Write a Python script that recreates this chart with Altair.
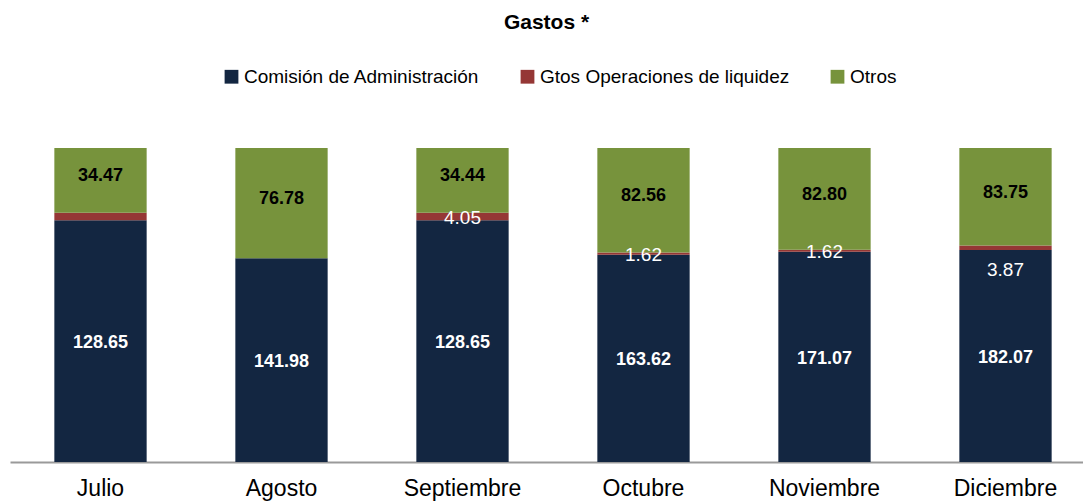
import altair as alt
import pandas as pd

months = ["Julio", "Agosto", "Septiembre", "Octubre", "Noviembre", "Diciembre"]
series = ["Comisión de Administración", "Gtos Operaciones de liquidez", "Otros"]
colors = ["#132641", "#953735", "#77933C"]
comision = [128.65, 141.98, 128.65, 163.62, 171.07, 182.07]
liquidez = [4.05, 0.0, 4.05, 1.62, 1.62, 3.87]
otros = [34.47, 76.78, 34.44, 82.56, 82.80, 83.75]
liq_labels = ["", "", "4.05", "1.62", "1.62", "3.87"]

rows = []
for i, m in enumerate(months):
    rows.append({"mes": m, "serie": series[0], "orden": 0, "valor": comision[i], "lab": f"{comision[i]:.2f}"})
    rows.append({"mes": m, "serie": series[1], "orden": 1, "valor": liquidez[i], "lab": liq_labels[i]})
    rows.append({"mes": m, "serie": series[2], "orden": 2, "valor": otros[i], "lab": f"{otros[i]:.2f}"})
df = pd.DataFrame(rows)

FONT = "Liberation Sans, Arial"

base = alt.Chart(df).transform_stack(
    stack="valor", groupby=["mes"], sort=[alt.SortField("orden", order="ascending")],
    as_=["y0", "y1"], offset="normalize"
).transform_calculate(ym="(datum.y0 + datum.y1) / 2")

xenc = alt.X(
    "mes:N", sort=months,
    scale=alt.Scale(range=[0, 1086], paddingInner=0.49, paddingOuter=0.245),
    axis=alt.Axis(title=None, labelAngle=0, ticks=False, domainColor="#9a9a9a", domainWidth=2,
                  labelFontSize=23, labelPadding=15, labelColor="black", labelFont=FONT),
)

bars = base.mark_bar().encode(
    x=xenc,
    y=alt.Y("y0:Q", scale=alt.Scale(domain=[0, 1]), axis=None),
    y2="y1:Q",
    color=alt.Color("serie:N", scale=alt.Scale(domain=series, range=colors),
                    legend=alt.Legend(title=None, orient="none", legendX=212, legendY=-81,
                                      direction="horizontal", symbolType="square", symbolSize=190,
                                      symbolStrokeWidth=0, symbolOpacity=1, labelFontSize=19,
                                      labelFont=FONT, labelColor="black", columnPadding=38,
                                      labelOffset=3, labelLimit=0)),
    order=alt.Order("orden:Q"),
)

lab_com = base.transform_filter("datum.orden == 0").mark_text(
    color="white", fontWeight="bold", fontSize=18, font=FONT, baseline="middle", dy=2
).encode(x=alt.X("mes:N", sort=months), y="ym:Q", text="lab:N")

lab_otros = base.transform_filter("datum.orden == 2").mark_text(
    color="black", fontWeight="bold", fontSize=18, font=FONT, baseline="middle", dy=-4
).encode(x=alt.X("mes:N", sort=months), y="ym:Q", text="lab:N")

lab_liq = base.transform_filter("datum.orden == 1 && datum.mes != 'Diciembre'").mark_text(
    color="white", fontSize=19, font=FONT, baseline="middle", dy=1
).encode(x=alt.X("mes:N", sort=months), y="ym:Q", text="lab:N")

lab_liq_dic = base.transform_filter("datum.orden == 1 && datum.mes == 'Diciembre'").mark_text(
    color="white", fontSize=19, font=FONT, baseline="middle", dy=22
).encode(x=alt.X("mes:N", sort=months), y="ym:Q", text="lab:N")

chart = alt.layer(bars, lab_com, lab_otros, lab_liq, lab_liq_dic).properties(
    width=1073, height=314,
    title=alt.TitleParams("Gastos *", fontSize=21, fontWeight="bold", font=FONT, color="black",
                          anchor="middle", offset=34),
    autosize=alt.AutoSizeParams(type="none"),
    padding={"left": 10, "top": 148, "right": 0, "bottom": 42},
).configure(background="white").configure_view(stroke=None, strokeWidth=0)

chart.save("out.html", embed_options={"renderer": "svg", "actions": False})
